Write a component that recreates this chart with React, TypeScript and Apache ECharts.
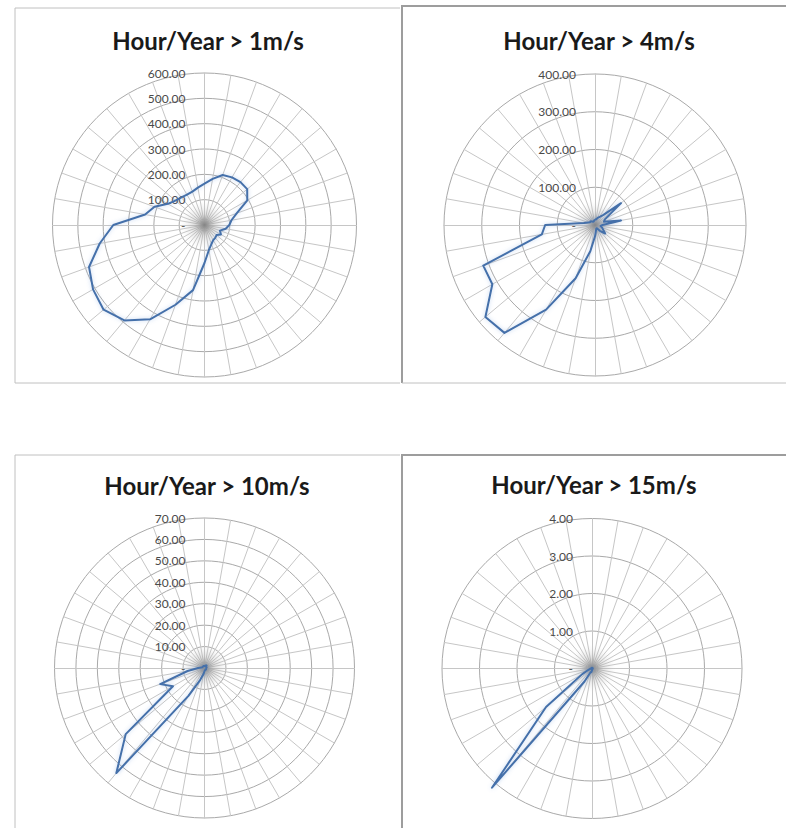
import React, { useEffect, useRef } from 'react';
import * as echarts from 'echarts';

// Compass directions (degrees, clockwise from north)
const directions = [0, 10, 20, 30, 40, 50, 60, 70, 80, 90, 100, 110, 120, 130, 140, 150, 160, 170,
  180, 190, 200, 210, 220, 230, 240, 250, 260, 270, 280, 290, 300, 310, 320, 330, 340, 350];

const titles = ['Hour/Year > 1m/s', 'Hour/Year > 4m/s', 'Hour/Year > 10m/s', 'Hour/Year > 15m/s'];
const axisMax = [600, 400, 70, 4];
const axisSplits = [6, 4, 7, 4];

const hoursAbove1 = [163, 185, 210, 217, 221, 220, 195, 135, 108, 98, 85, 65, 75, 62, 66, 69, 80, 100,
  150, 261, 335, 430, 492, 520, 508, 485, 420, 360, 238, 210, 167, 150, 142, 138, 140, 150];
const hoursAbove4 = [15, 15, 20, 25, 35, 90, 30, 25, 70, 20, 15, 20, 25, 35, 20, 10, 10, 15,
  30, 70, 150, 259, 373, 379, 314, 315, 143, 132, 30, 20, 15, 15, 12, 10, 10, 12];
const hoursAbove10 = [1, 1, 1, 1.5, 1.5, 1, 1, 1, 1, 0.8, 0.8, 0.8, 0.8, 1, 1, 1, 1, 1,
  1.5, 3, 6, 15, 64, 48, 17, 22, 8, 3, 1.5, 1, 1, 1, 1, 1, 1, 1];
const hoursAbove15 = [0.02, 0.02, 0.02, 0.02, 0.02, 0.02, 0.02, 0.02, 0.02, 0.02, 0.02, 0.02, 0.02, 0.02, 0.02, 0.02, 0.02, 0.02,
  0.05, 0.1, 0.1, 0.4, 4.15, 1.6, 0.3, 0.1, 0.05, 0.02, 0.02, 0.02, 0.02, 0.02, 0.02, 0.02, 0.02, 0.02];

const seriesValues = [hoursAbove1, hoursAbove4, hoursAbove10, hoursAbove15];

// layout (px)
const panels = [
  { cx: 204.5, cy: 225, r: 152, tx: 208, ty: 40, left: 15, top: 8, right: 400, bottom: 383 },
  { cx: 595, cy: 225, r: 151, tx: 599, ty: 40, left: 402, top: 6, right: 790, bottom: 383 },
  { cx: 204.5, cy: 668, r: 150, tx: 207, ty: 485, left: 15, top: 455, right: 400, bottom: 840 },
  { cx: 592, cy: 668.5, r: 150, tx: 594, ty: 484, left: 402, top: 455, right: 790, bottom: 840 },
];

export default function App() {
  const ref = useRef<HTMLDivElement>(null);
  useEffect(() => {
    if (!ref.current) return;
    const chart = echarts.init(ref.current, null, { renderer: 'svg' });
    const n = directions.length;
    // ECharts radar runs counter-clockwise: reorder compass directions
    const order = directions.map((_, k) => (n - k) % n);

    const radar = panels.map((p, i) => ({
      center: [p.cx, p.cy],
      radius: p.r,
      startAngle: 90,
      shape: 'circle',
      splitNumber: axisSplits[i],
      axisName: { show: false },
      indicator: order.map((idx, k) => ({
        name: '',
        min: 0,
        max: axisMax[i],
        ...(k === 0 ? { axisLabel: { show: true } } : {}),
      })),
      axisLine: { lineStyle: { color: '#c6c6c6', width: 1 } },
      splitLine: { lineStyle: { color: '#a9a9a9', width: 1 } },
      splitArea: { show: false },
      axisTick: { show: false },
      axisLabel: {
        show: false,
        margin: 19,
        color: '#4a4a4a',
        fontFamily: 'Lato',
        fontSize: 12,
        formatter: (v: number) => (Number(v) === 0 ? '-' : Number(v).toFixed(2)),
      },
    }));

    const series = panels.map((p, i) => ({
      type: 'radar',
      radarIndex: i,
      symbol: 'none',
      z: 3,
      lineStyle: {
        color: '#4470aa',
        width: 2,
        shadowColor: 'rgba(120,160,220,0.45)',
        shadowBlur: 4,
      },
      data: [{ value: order.map((idx) => seriesValues[i][idx]) }],
    }));

    const graphic: any[] = [];
    panels.forEach((p, i) => {
      const isRight = i % 2 === 1;
      // border: top, bottom, left (left panels' right edge hidden behind the right panel's edge)
      graphic.push({
        type: 'polyline',
        shape: { points: [[p.right, p.top], [p.left, p.top], [p.left, p.bottom]] },
        style: { fill: 'none', stroke: isRight ? '#9d9d9d' : '#c0c0c0', lineWidth: isRight ? 2 : 1 },
        z: 0,
      });
      graphic.push({
        type: 'line',
        shape: { x1: p.left, y1: p.bottom, x2: p.right, y2: p.bottom },
        style: { stroke: '#c0c0c0', lineWidth: 1 },
        z: 0,
      });
      // grey haze where the spokes converge
      graphic.push({
        type: 'circle',
        shape: { cx: p.cx, cy: p.cy, r: 24 },
        style: {
          fill: new echarts.graphic.RadialGradient(0.5, 0.5, 0.5, [
            { offset: 0, color: 'rgba(110,110,110,0.75)' },
            { offset: 0.45, color: 'rgba(170,170,170,0.35)' },
            { offset: 1, color: 'rgba(220,220,220,0)' },
          ]),
        },
        silent: true,
        z: 1,
      });
      graphic.push({
        type: 'text',
        x: p.tx,
        y: p.ty,
        style: {
          text: titles[i],
          textAlign: 'center',
          textVerticalAlign: 'middle',
          fontFamily: 'Lato',
          fontWeight: 'bold',
          fontSize: 24,
          fill: '#1a1a1a',
        },
        z: 10,
      });
    });

    chart.setOption({
      animation: false,
      backgroundColor: '#ffffff',
      radar,
      series,
      graphic,
    });
    return () => chart.dispose();
  }, []);
  return (
    <div
      ref={ref}
      style={{ position: 'fixed', left: 0, top: 0, width: 786, height: 828, background: '#fff' }}
    />
  );
}
